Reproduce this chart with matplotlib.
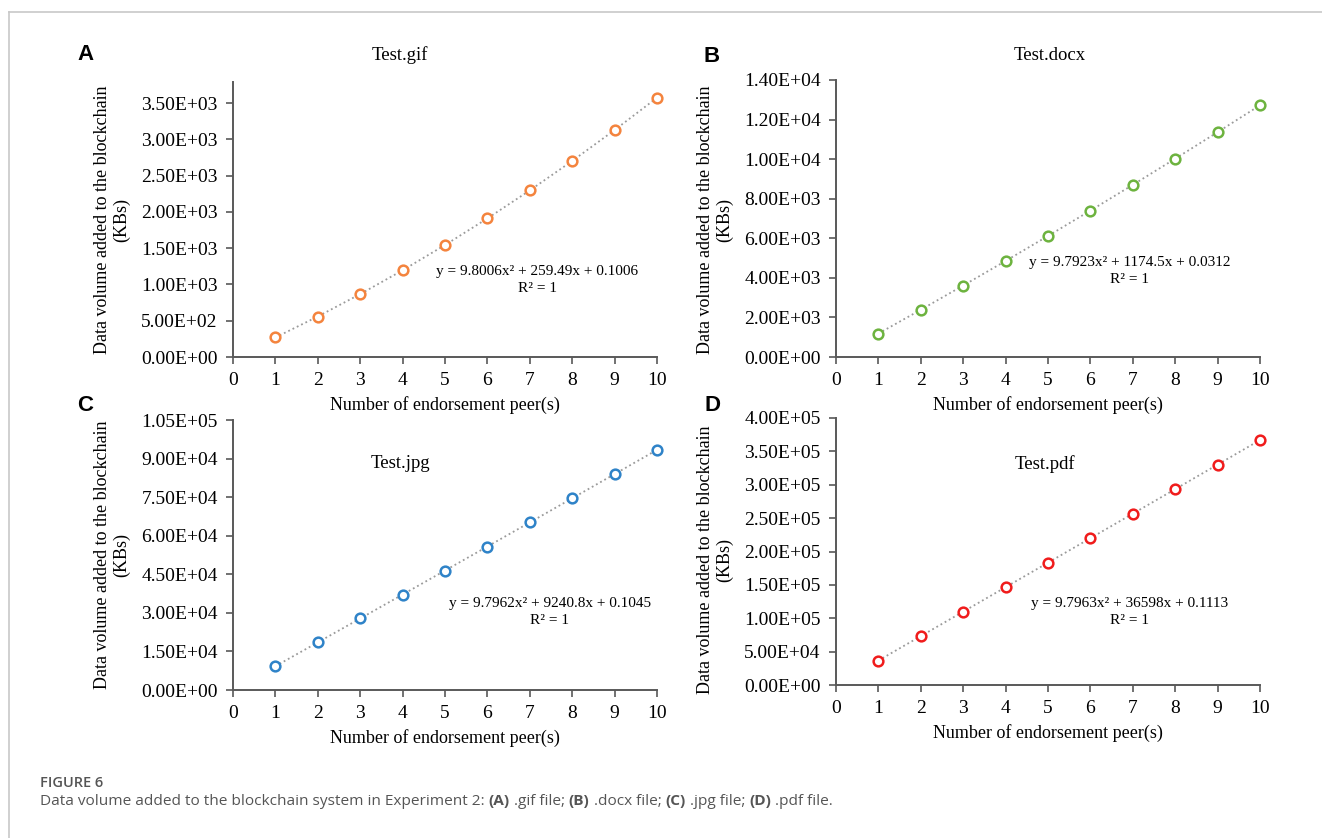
import matplotlib
matplotlib.use("Agg")
import matplotlib.pyplot as plt
from matplotlib.lines import Line2D

W, H = 1322, 838

peers = [1, 2, 3, 4, 5, 6, 7, 8, 9, 10]
gif_kb = [269, 558, 867, 1195, 1543, 1910, 2296, 2702, 3128, 3573]
docx_kb = [1184, 2388, 3612, 4855, 6117, 7399, 8701, 10022, 11364, 12724]
jpg_kb = [9251, 18520, 27810, 37120, 46449, 55797, 65165, 74554, 83962, 93387]
pdf_kb = [36608, 73235, 109882, 146549, 183235, 219941, 256666, 293410, 330174, 366957]

titles = ["Test.gif", "Test.docx", "Test.jpg", "Test.pdf"]
letters = ["A", "B", "C", "D"]
equations = ["y = 9.8006x² + 259.49x + 0.1006\nR² = 1",
             "y = 9.7923x² + 1174.5x + 0.0312\nR² = 1",
             "y = 9.7962x² + 9240.8x + 0.1045\nR² = 1",
             "y = 9.7963x² + 36598x + 0.1113\nR² = 1"]
yticks = [[0, 500, 1000, 1500, 2000, 2500, 3000, 3500],
          [0, 2000, 4000, 6000, 8000, 10000, 12000, 14000],
          [0, 15000, 30000, 45000, 60000, 75000, 90000, 105000],
          [0, 50000, 100000, 150000, 200000, 250000, 300000, 350000, 400000]]
ytops = [3790, 14000, 105000, 400000]
colors = ["#F4843E", "#6DB33F", "#2F83C8", "#F01C1C"]
series = [gif_kb, docx_kb, jpg_kb, pdf_kb]

# pixel layout: axes box (left, right, top, bottom), title, letter, equation, ylabel
boxes = [(233, 657, 82, 357), (836, 1260, 80, 357), (233, 657, 420, 690), (836, 1260, 418, 685)]
title_pos = [(400, 55), (1050, 55), (400, 464), (1045, 464)]
letter_pos = [(85, 55), (712, 57), (85, 405), (712, 405)]
eq_pos = [(537, 280), (1130, 271), (550, 612), (1130, 612)]
ylab_pos = [(112, 220), (715, 220), (112, 555), (715, 560)]

serif = ["Liberation Serif", "DejaVu Serif"]
fig = plt.figure(figsize=(W / 100, H / 100), dpi=100)


def fx(x):
    return x / W


def fy(y):
    return 1 - y / H


def sci(v, pos=None):
    return "%.2E" % v


for i in range(4):
    l, r, t, b = boxes[i]
    ax = fig.add_axes([fx(l), fy(b), (r - l) / W, (b - t) / H])
    ax.plot(peers, series[i], linestyle=":", color="#9a9a9a", lw=1.3,
            marker="o", markersize=7, markerfacecolor="white",
            markeredgecolor=colors[i], markeredgewidth=1.8, clip_on=False)
    ax.set_xlim(0, 10)
    ax.set_ylim(0, ytops[i])
    ax.set_xticks(range(0, 11))
    ax.set_yticks(yticks[i])
    ax.yaxis.set_major_formatter(plt.FuncFormatter(sci))
    for s in ["top", "right"]:
        ax.spines[s].set_visible(False)
    for s in ["left", "bottom"]:
        ax.spines[s].set_color("#595959")
        ax.spines[s].set_linewidth(1.4)
    ax.tick_params(direction="out", length=5, width=1.2, color="#595959",
                   labelsize=14, pad=6)
    for lab in ax.get_xticklabels() + ax.get_yticklabels():
        lab.set_family(serif)
    ax.set_xlabel("Number of endorsement peer(s)", family=serif, fontsize=13, labelpad=5)
    ax.set_facecolor("none")

    fig.text(fx(title_pos[i][0]), fy(title_pos[i][1]), titles[i], family=serif,
             fontsize=13.5, ha="center", va="center")
    fig.text(fx(letter_pos[i][0]), fy(letter_pos[i][1]), letters[i],
             family=["Liberation Sans", "DejaVu Sans"], fontweight="bold",
             fontsize=16, ha="center", va="center")
    fig.text(fx(eq_pos[i][0]), fy(eq_pos[i][1]), equations[i], family=serif,
             fontsize=11, ha="center", va="center", linespacing=1.35)
    fig.text(fx(ylab_pos[i][0]), fy(ylab_pos[i][1]),
             "Data volume added to the blockchain\n(KBs)", family=serif,
             fontsize=13, ha="center", va="center", rotation=90, linespacing=1.15)

# page border lines
fig.add_artist(Line2D([fx(9), 1], [fy(12), fy(12)], color="#c8c8c8", lw=1.2))
fig.add_artist(Line2D([fx(9), fx(9)], [fy(12), 0], color="#c8c8c8", lw=1.2))

# caption
cap_font = ["Open Sans", "DejaVu Sans"]
fig.text(fx(40), fy(783), "FIGURE 6", family=cap_font, fontsize=10.5,
         color="#555555", va="center", fontweight="semibold")
parts = [("Data volume added to the blockchain system in Experiment 2: ", "normal"),
         ("(A)", "bold"), (" .gif file; ", "normal"),
         ("(B)", "bold"), (" .docx file; ", "normal"),
         ("(C)", "bold"), (" .jpg file; ", "normal"),
         ("(D)", "bold"), (" .pdf file.", "normal")]
renderer = fig.canvas.get_renderer()
x = 40
for txt, wt in parts:
    t = fig.text(fx(x), fy(801), txt, family=cap_font, fontsize=11.1,
                 color="#555555", va="center", fontweight=wt)
    bb = t.get_window_extent(renderer=renderer)
    x += bb.width

fig.savefig("out.png", dpi=100)
